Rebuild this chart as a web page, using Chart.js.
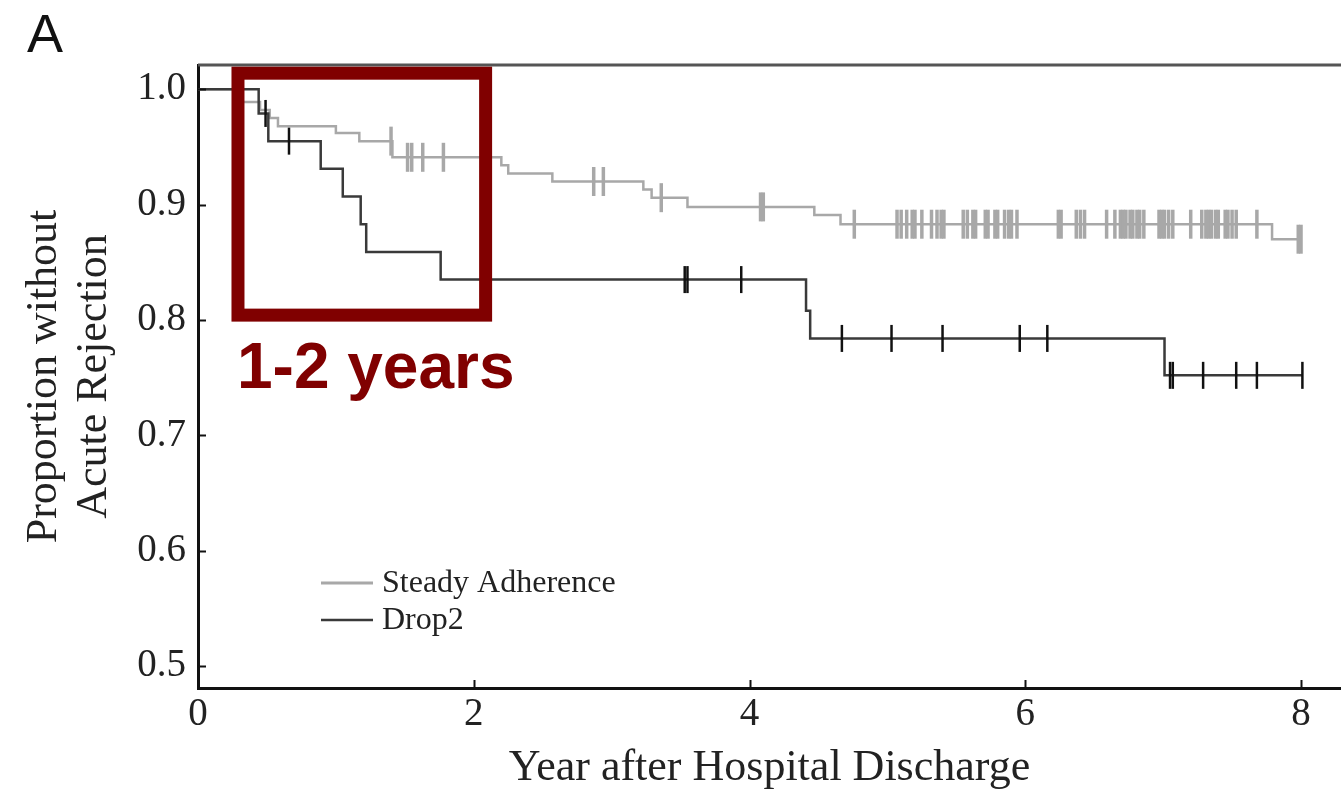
<!DOCTYPE html>
<html>
<head>
<meta charset="utf-8">
<title>Proportion without Acute Rejection</title>
<script src="https://cdn.jsdelivr.net/npm/chart.js@4.4.1/dist/chart.umd.min.js"></script>
<style>
  html, body { margin: 0; padding: 0; background: #fff; }
  #wrap { position: relative; width: 1341px; height: 790px; }
</style>
</head>
<body>
<div id="wrap"><canvas id="kmChart" width="1341" height="790"></canvas></div>
<script>
// Kaplan-Meier steps: time (years) where the curve drops, and the new level
const seriesNames = ['Steady Adherence', 'Drop2'];

const steadyTimes = [0, 0.32, 0.45, 0.52, 0.58, 1.00, 1.17, 1.41, 2.20, 2.25, 2.57, 3.23, 3.29, 3.55, 4.47, 4.66, 7.79, 8.00];
const steadyProps = [1.0, 0.989, 0.982, 0.975, 0.968, 0.962, 0.955, 0.941, 0.934, 0.927, 0.920, 0.913, 0.906, 0.898, 0.891, 0.883, 0.870, 0.870];
const steadyCensored = [1.40, 1.52, 1.55, 1.63, 1.78, 2.87, 2.94, 3.36, 4.08, 4.10, 4.76,
  5.07, 5.10, 5.14, 5.18, 5.20, 5.25, 5.32, 5.36, 5.39, 5.41, 5.55, 5.58, 5.62, 5.64, 5.71, 5.73,
  5.78, 5.80, 5.85, 5.88, 5.90, 5.94, 6.24, 6.26, 6.37, 6.40, 6.43, 6.59, 6.65, 6.69, 6.71, 6.73,
  6.76, 6.78, 6.81, 6.83, 6.86, 6.97, 6.99, 7.01, 7.04, 7.07, 7.20, 7.28, 7.31, 7.33, 7.35, 7.38,
  7.40, 7.45, 7.47, 7.50, 7.53, 7.68, 7.98, 8.00];

const dropTimes = [0, 0.44, 0.51, 0.89, 1.05, 1.18, 1.22, 1.76, 4.41, 4.44, 7.01, 8.01];
const dropProps = [1.0, 0.979, 0.955, 0.931, 0.907, 0.883, 0.859, 0.835, 0.808, 0.784, 0.752, 0.752];
const dropCensored = [0.49, 0.66, 3.53, 3.55, 3.94, 4.67, 5.03, 5.40, 5.96, 6.16, 7.05, 7.07, 7.29, 7.53, 7.68, 8.01];

const xTicks = [0, 2, 4, 6, 8];
const yTicks = [0.5, 0.6, 0.7, 0.8, 0.9, 1.0];

// highlighted window, in data units
const boxYears = [0.29, 2.086];
const boxProps = [0.8042, 1.0139];
const boxLabel = '1-2 years';

const steadyColor = '#a8a8a8';
const dropColor = '#3a3a3a';
const serif = "'Liberation Serif', 'Times New Roman', serif";

function levelAt(times, props, t) {
  let v = props[0];
  for (let i = 0; i < times.length; i++) {
    if (times[i] <= t) v = props[i];
  }
  return v;
}

const steadyPts = steadyTimes.map((t, i) => ({ x: t, y: steadyProps[i] }));
const dropPts = dropTimes.map((t, i) => ({ x: t, y: dropProps[i] }));
const steadyCens = steadyCensored.map(t => ({ x: t, y: levelAt(steadyTimes, steadyProps, t) }));
const dropCens = dropCensored.map(t => ({ x: t, y: levelAt(dropTimes, dropProps, t) }));

// frame, inward ticks, legend, panel letter and the red box
const extras = {
  id: 'extras',
  afterDatasetsDraw(chart) {
    const { ctx, chartArea: a, scales: { x, y } } = chart;
    ctx.save();

    // top frame line
    ctx.strokeStyle = '#555';
    ctx.lineWidth = 3;
    ctx.beginPath();
    ctx.moveTo(a.left, a.top);
    ctx.lineTo(chart.width, a.top);
    ctx.stroke();

    // inward tick marks
    ctx.strokeStyle = '#111';
    ctx.lineWidth = 2;
    xTicks.forEach(v => {
      const px = Math.round(x.getPixelForValue(v)) + 0.5;
      ctx.beginPath();
      ctx.moveTo(px, a.bottom);
      ctx.lineTo(px, a.bottom - 8);
      ctx.stroke();
    });
    yTicks.forEach(v => {
      const py = Math.round(y.getPixelForValue(v)) + 0.5;
      ctx.beginPath();
      ctx.moveTo(a.left, py);
      ctx.lineTo(a.left + 8, py);
      ctx.stroke();
    });

    // legend
    const legendRows = [
      { name: seriesNames[0], color: steadyColor, width: 3 },
      { name: seriesNames[1], color: dropColor, width: 2.5 }
    ];
    ctx.font = '32px ' + serif;
    ctx.textBaseline = 'middle';
    ctx.textAlign = 'left';
    legendRows.forEach((row, i) => {
      const ly = a.top + 518 + i * 37;
      ctx.strokeStyle = row.color;
      ctx.lineWidth = row.width;
      ctx.beginPath();
      ctx.moveTo(a.left + 123, ly);
      ctx.lineTo(a.left + 175, ly);
      ctx.stroke();
      ctx.fillStyle = '#222';
      ctx.fillText(row.name, a.left + 184, ly + 1);
    });

    // red highlight box
    const bx0 = x.getPixelForValue(boxYears[0]);
    const bx1 = x.getPixelForValue(boxYears[1]);
    const by0 = y.getPixelForValue(boxProps[1]);
    const by1 = y.getPixelForValue(boxProps[0]);
    ctx.strokeStyle = '#800000';
    ctx.lineWidth = 13;
    ctx.lineJoin = 'miter';
    ctx.strokeRect(bx0, by0, bx1 - bx0, by1 - by0);

    ctx.fillStyle = '#800000';
    ctx.font = "bold 64px 'Liberation Sans', Arial, sans-serif";
    ctx.textBaseline = 'alphabetic';
    ctx.fillText(boxLabel, bx0 - 1, by1 + 73);

    // panel letter
    ctx.fillStyle = '#111';
    ctx.font = "54px 'Liberation Sans', Arial, sans-serif";
    ctx.fillText('A', 27, 52);

    ctx.restore();
  }
};

const ctx = document.getElementById('kmChart').getContext('2d');
const kmChart = new Chart(ctx, {
  type: 'line',
  data: {
    datasets: [
      { label: seriesNames[0], data: steadyPts, stepped: 'before', borderColor: steadyColor,
        borderWidth: 2.5, pointRadius: 0, fill: false, order: 3 },
      { label: seriesNames[1], data: dropPts, stepped: 'before', borderColor: dropColor,
        borderWidth: 2.5, pointRadius: 0, fill: false, order: 2 },
      { type: 'scatter', label: seriesNames[0] + ' censored', data: steadyCens, showLine: false,
        pointStyle: 'line', pointRotation: 90, pointRadius: 14.5,
        pointBorderColor: steadyColor, pointBorderWidth: 3.5, order: 1 },
      { type: 'scatter', label: seriesNames[1] + ' censored', data: dropCens, showLine: false,
        pointStyle: 'line', pointRotation: 90, pointRadius: 13.5,
        pointBorderColor: '#111', pointBorderWidth: 2.5, order: 0 }
    ]
  },
  options: {
    responsive: false,
    animation: false,
    devicePixelRatio: 1,
    layout: { autoPadding: false, padding: { left: 0, right: 0, top: 65, bottom: 0 } },
    plugins: { legend: { display: false }, tooltip: { enabled: false } },
    scales: {
      x: {
        type: 'linear', min: 0, max: 8.29,
        afterBuildTicks: s => { s.ticks = xTicks.map(v => ({ value: v })); },
        afterFit: s => { s.height = 102; s.paddingLeft = 0; s.paddingRight = 0; },
        grid: { display: false, drawTicks: false },
        border: { display: true, color: '#111', width: 3 },
        ticks: { font: { family: serif, size: 39 }, color: '#222', padding: 3, maxRotation: 0 },
        title: { display: true, text: 'Year after Hospital Discharge', color: '#222',
          font: { family: serif, size: 44, lineHeight: 1 }, padding: 0 }
      },
      y: {
        type: 'linear', min: 0.481, max: 1.021,
        afterBuildTicks: s => { s.ticks = yTicks.map(v => ({ value: v })); },
        afterFit: s => { s.width = 198; s.paddingTop = 0; s.paddingBottom = 0; },
        grid: { display: false, drawTicks: false },
        border: { display: true, color: '#111', width: 3 },
        ticks: { font: { family: serif, size: 39 }, color: '#222', padding: 12,
          callback: v => v.toFixed(1) },
        title: { display: true, text: ['Proportion without', 'Acute Rejection'], color: '#222',
          font: { family: serif, size: 44, lineHeight: 1.13 }, padding: { top: 20, bottom: 0 } }
      }
    }
  },
  plugins: [extras]
});
</script>
</body>
</html>
